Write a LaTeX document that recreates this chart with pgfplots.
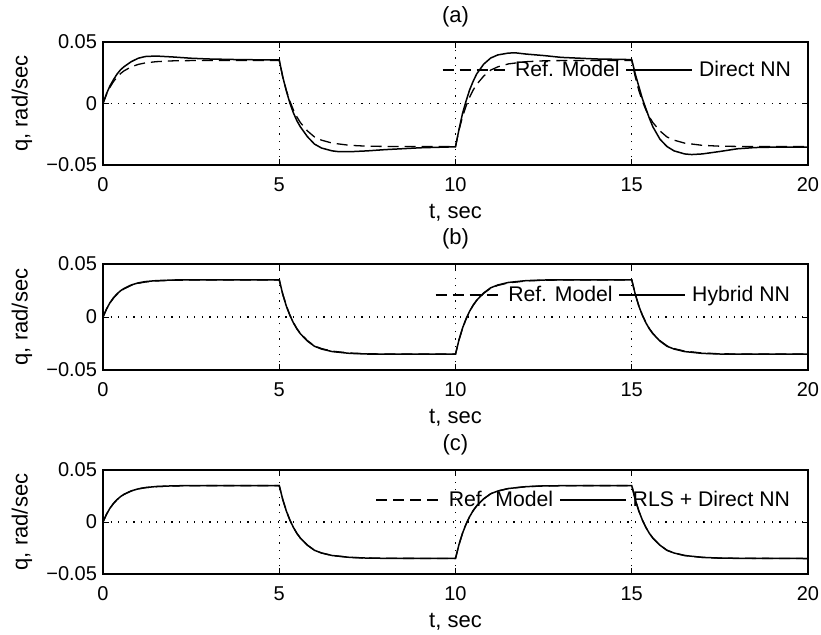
\documentclass[border=0pt]{standalone}
\usepackage{fontspec}
\setmainfont{Liberation Sans}
\usepackage{pgfplots}
\usepackage{pgfplotstable}
\pgfplotsset{compat=1.18}

\pgfplotstableread{
t q
0 0
0.1 0.0074
0.2 0.0133
0.3 0.0179
0.4 0.0215
0.5 0.0244
0.6 0.0266
0.8 0.0298
1.0 0.0318
1.2 0.0330
1.5 0.0340
2.0 0.0347
2.5 0.0349
3.0 0.0350
4.0 0.0350
5.0 0.0350
5.1 0.0216
5.2 0.0107
5.3 0.0020
5.4 -0.0051
5.5 -0.0109
5.6 -0.0155
5.8 -0.0223
6.0 -0.0272
6.2 -0.0298
6.5 -0.0322
7.0 -0.0340
7.5 -0.0347
8.0 -0.0349
9.0 -0.0350
10.0 -0.0350
10.1 -0.0216
10.2 -0.0107
10.3 -0.0020
10.4 0.0051
10.5 0.0109
10.6 0.0155
10.8 0.0223
11.0 0.0272
11.2 0.0298
11.5 0.0322
12.0 0.0340
12.5 0.0347
13.0 0.0349
14.0 0.0350
15.0 0.0350
15.1 0.0216
15.2 0.0107
15.3 0.0020
15.4 -0.0051
15.5 -0.0109
15.6 -0.0155
15.8 -0.0223
16.0 -0.0272
16.2 -0.0298
16.5 -0.0322
17.0 -0.0340
17.5 -0.0347
18.0 -0.0349
19.0 -0.0350
20.0 -0.0350
}\refmodel

\pgfplotstableread{
t q
0 0
0.1 0.0080
0.2 0.0145
0.3 0.0195
0.4 0.0240
0.5 0.0275
0.6 0.0300
0.8 0.0340
1.0 0.0368
1.2 0.0382
1.5 0.0386
2.0 0.0378
2.5 0.0368
3.0 0.0362
4.0 0.0356
5.0 0.0355
5.1 0.0215
5.2 0.0105
5.3 0.0005
5.4 -0.0075
5.5 -0.0140
5.6 -0.0190
5.8 -0.0270
6.0 -0.0330
6.2 -0.0362
6.5 -0.0385
6.7 -0.0392
7.0 -0.0392
7.5 -0.0385
8.0 -0.0375
9.0 -0.0360
10.0 -0.0352
10.1 -0.0210
10.2 -0.0080
10.3 0.0020
10.4 0.0110
10.5 0.0180
10.6 0.0240
10.8 0.0320
11.0 0.0370
11.2 0.0395
11.5 0.0410
11.7 0.0412
12.0 0.0402
12.5 0.0390
13.0 0.0375
14.0 0.0362
15.0 0.0357
15.1 0.0240
15.2 0.0140
15.3 0.0040
15.4 -0.0040
15.5 -0.0120
15.6 -0.0190
15.8 -0.0290
16.0 -0.0350
16.2 -0.0385
16.5 -0.0410
16.7 -0.0415
17.0 -0.0410
17.5 -0.0390
18.0 -0.0368
18.5 -0.0358
19.0 -0.0355
20.0 -0.0355
}\directnn

\pgfplotstableread{
t q
0 0
0.1 0.0076
0.2 0.0136
0.3 0.0183
0.4 0.0219
0.5 0.0248
0.6 0.0270
0.8 0.0302
1.0 0.0322
1.2 0.0334
1.5 0.0343
2.0 0.0349
2.5 0.0351
3.0 0.0351
4.0 0.0351
5.0 0.0351
5.1 0.0214
5.2 0.0104
5.3 0.0017
5.4 -0.0054
5.5 -0.0112
5.6 -0.0158
5.8 -0.0227
6.0 -0.0276
6.2 -0.0302
6.5 -0.0326
7.0 -0.0343
7.5 -0.0349
8.0 -0.0351
9.0 -0.0351
10.0 -0.0351
10.1 -0.0214
10.2 -0.0104
10.3 -0.0017
10.4 0.0054
10.5 0.0112
10.6 0.0158
10.8 0.0227
11.0 0.0276
11.2 0.0302
11.5 0.0326
12.0 0.0343
12.5 0.0349
13.0 0.0351
14.0 0.0351
15.0 0.0351
15.1 0.0214
15.2 0.0104
15.3 0.0017
15.4 -0.0054
15.5 -0.0112
15.6 -0.0158
15.8 -0.0227
16.0 -0.0276
16.2 -0.0302
16.5 -0.0326
17.0 -0.0343
17.5 -0.0349
18.0 -0.0351
19.0 -0.0351
20.0 -0.0351
}\hybridnn

\pgfplotstableread{
t q
0 0
0.1 0.0075
0.2 0.0134
0.3 0.0180
0.4 0.0216
0.5 0.0245
0.6 0.0267
0.8 0.0299
1.0 0.0319
1.2 0.0331
1.5 0.0341
2.0 0.0348
2.5 0.0350
3.0 0.0350
4.0 0.0350
5.0 0.0350
5.1 0.0216
5.2 0.0107
5.3 0.0020
5.4 -0.0051
5.5 -0.0109
5.6 -0.0155
5.8 -0.0223
6.0 -0.0272
6.2 -0.0298
6.5 -0.0322
7.0 -0.0340
7.5 -0.0347
8.0 -0.0349
9.0 -0.0350
10.0 -0.0350
10.1 -0.0216
10.2 -0.0107
10.3 -0.0020
10.4 0.0051
10.5 0.0109
10.6 0.0155
10.8 0.0223
11.0 0.0272
11.2 0.0298
11.5 0.0322
12.0 0.0340
12.5 0.0347
13.0 0.0349
14.0 0.0350
15.0 0.0350
15.1 0.0216
15.2 0.0107
15.3 0.0020
15.4 -0.0051
15.5 -0.0109
15.6 -0.0155
15.8 -0.0223
16.0 -0.0272
16.2 -0.0298
16.5 -0.0322
17.0 -0.0340
17.5 -0.0347
18.0 -0.0349
19.0 -0.0350
20.0 -0.0351
}\rlsnn

\newcommand{\fs}{\fontsize{10}{11}\selectfont}
\newcommand{\labfs}{\fontsize{11}{12}\selectfont}
\newcommand{\lfs}{\fontsize{10.6}{11}\selectfont}

\pgfplotsset{
  panel/.style={
    scale only axis,
    width=352.5pt,
    xmin=0, xmax=20, ymin=-0.05, ymax=0.05,
    scaled y ticks=false, scaled x ticks=false,
    xtick={0,5,10,15,20}, xticklabels={0,5,10,15,20},
    ytick={-0.05,0,0.05}, yticklabels={−0.05,0,0.05},
    xtick pos=both, ytick pos=both,
    tick align=inside,
    major tick length=3pt,
    every tick/.style={black, line width=0.5pt},
    axis line style={black, line width=0.7pt},
    grid=major,
    major grid style={black, line width=0.55pt, dash pattern=on 0.6pt off 3.2pt},
    tick label style={font=\fs},
    xticklabel style={anchor=center, yshift=-10pt},
    yticklabel style={xshift=0.5pt},
    label style={font=\labfs},
    title style={font=\labfs, at={(axis description cs:0.5,1)}, anchor=center, yshift=6.5pt},
    xlabel={t, sec},
    ylabel={q, rad/sec},
    xlabel style={at={(axis description cs:0.5,0)}, anchor=center, yshift=-24pt},
    ylabel style={at={(axis description cs:0,0.5)}, anchor=center, yshift=40.5pt},
    legend columns=2,
    legend style={draw=none, fill=none, font=\lfs, at={(axis description cs:1,1)}, anchor=east,
      inner sep=0pt, outer sep=0pt,
      nodes={inner sep=3pt},
      /tikz/every even column/.append style={column sep=0pt}},
    legend image code/.code={\draw[#1] (0pt,0pt) -- (33pt,0pt);},
    clip=true,
  },
  refline/.style={black, line width=0.65pt, dash pattern=on 5.5pt off 3pt},
  nnline/.style={black, line width=0.75pt},
}

\begin{document}
\begin{tikzpicture}
\path[use as bounding box] (0pt,0pt) rectangle (410.5pt,-317pt);

\begin{axis}[panel, at={(51.5pt,-82.5pt)}, anchor=south west, height=61.5pt,
  title={(a)}, legend style={xshift=-5.5pt, yshift=-14pt}]
\addplot[refline] table[x=t,y=q] {\refmodel};
\addlegendentry{Ref. Model}
\addplot[nnline] table[x=t,y=q] {\directnn};
\addlegendentry{Direct NN}
\end{axis}

\begin{axis}[panel, at={(51.5pt,-185pt)}, anchor=south west, height=53pt,
  title={(b)}, legend style={xshift=-6pt, yshift=-15.5pt}]
\addplot[refline] table[x=t,y=q] {\refmodel};
\addlegendentry{Ref. Model}
\addplot[nnline] table[x=t,y=q] {\hybridnn};
\addlegendentry{Hybrid NN}
\end{axis}

\begin{axis}[panel, at={(51.5pt,-287pt)}, anchor=south west, height=52pt,
  title={(c)}, legend style={xshift=-6pt, yshift=-15pt}]
\addplot[refline] table[x=t,y=q] {\refmodel};
\addlegendentry{Ref. Model}
\addplot[nnline] table[x=t,y=q] {\rlsnn};
\addlegendentry{RLS + Direct NN}
\end{axis}
\end{tikzpicture}
\end{document}
